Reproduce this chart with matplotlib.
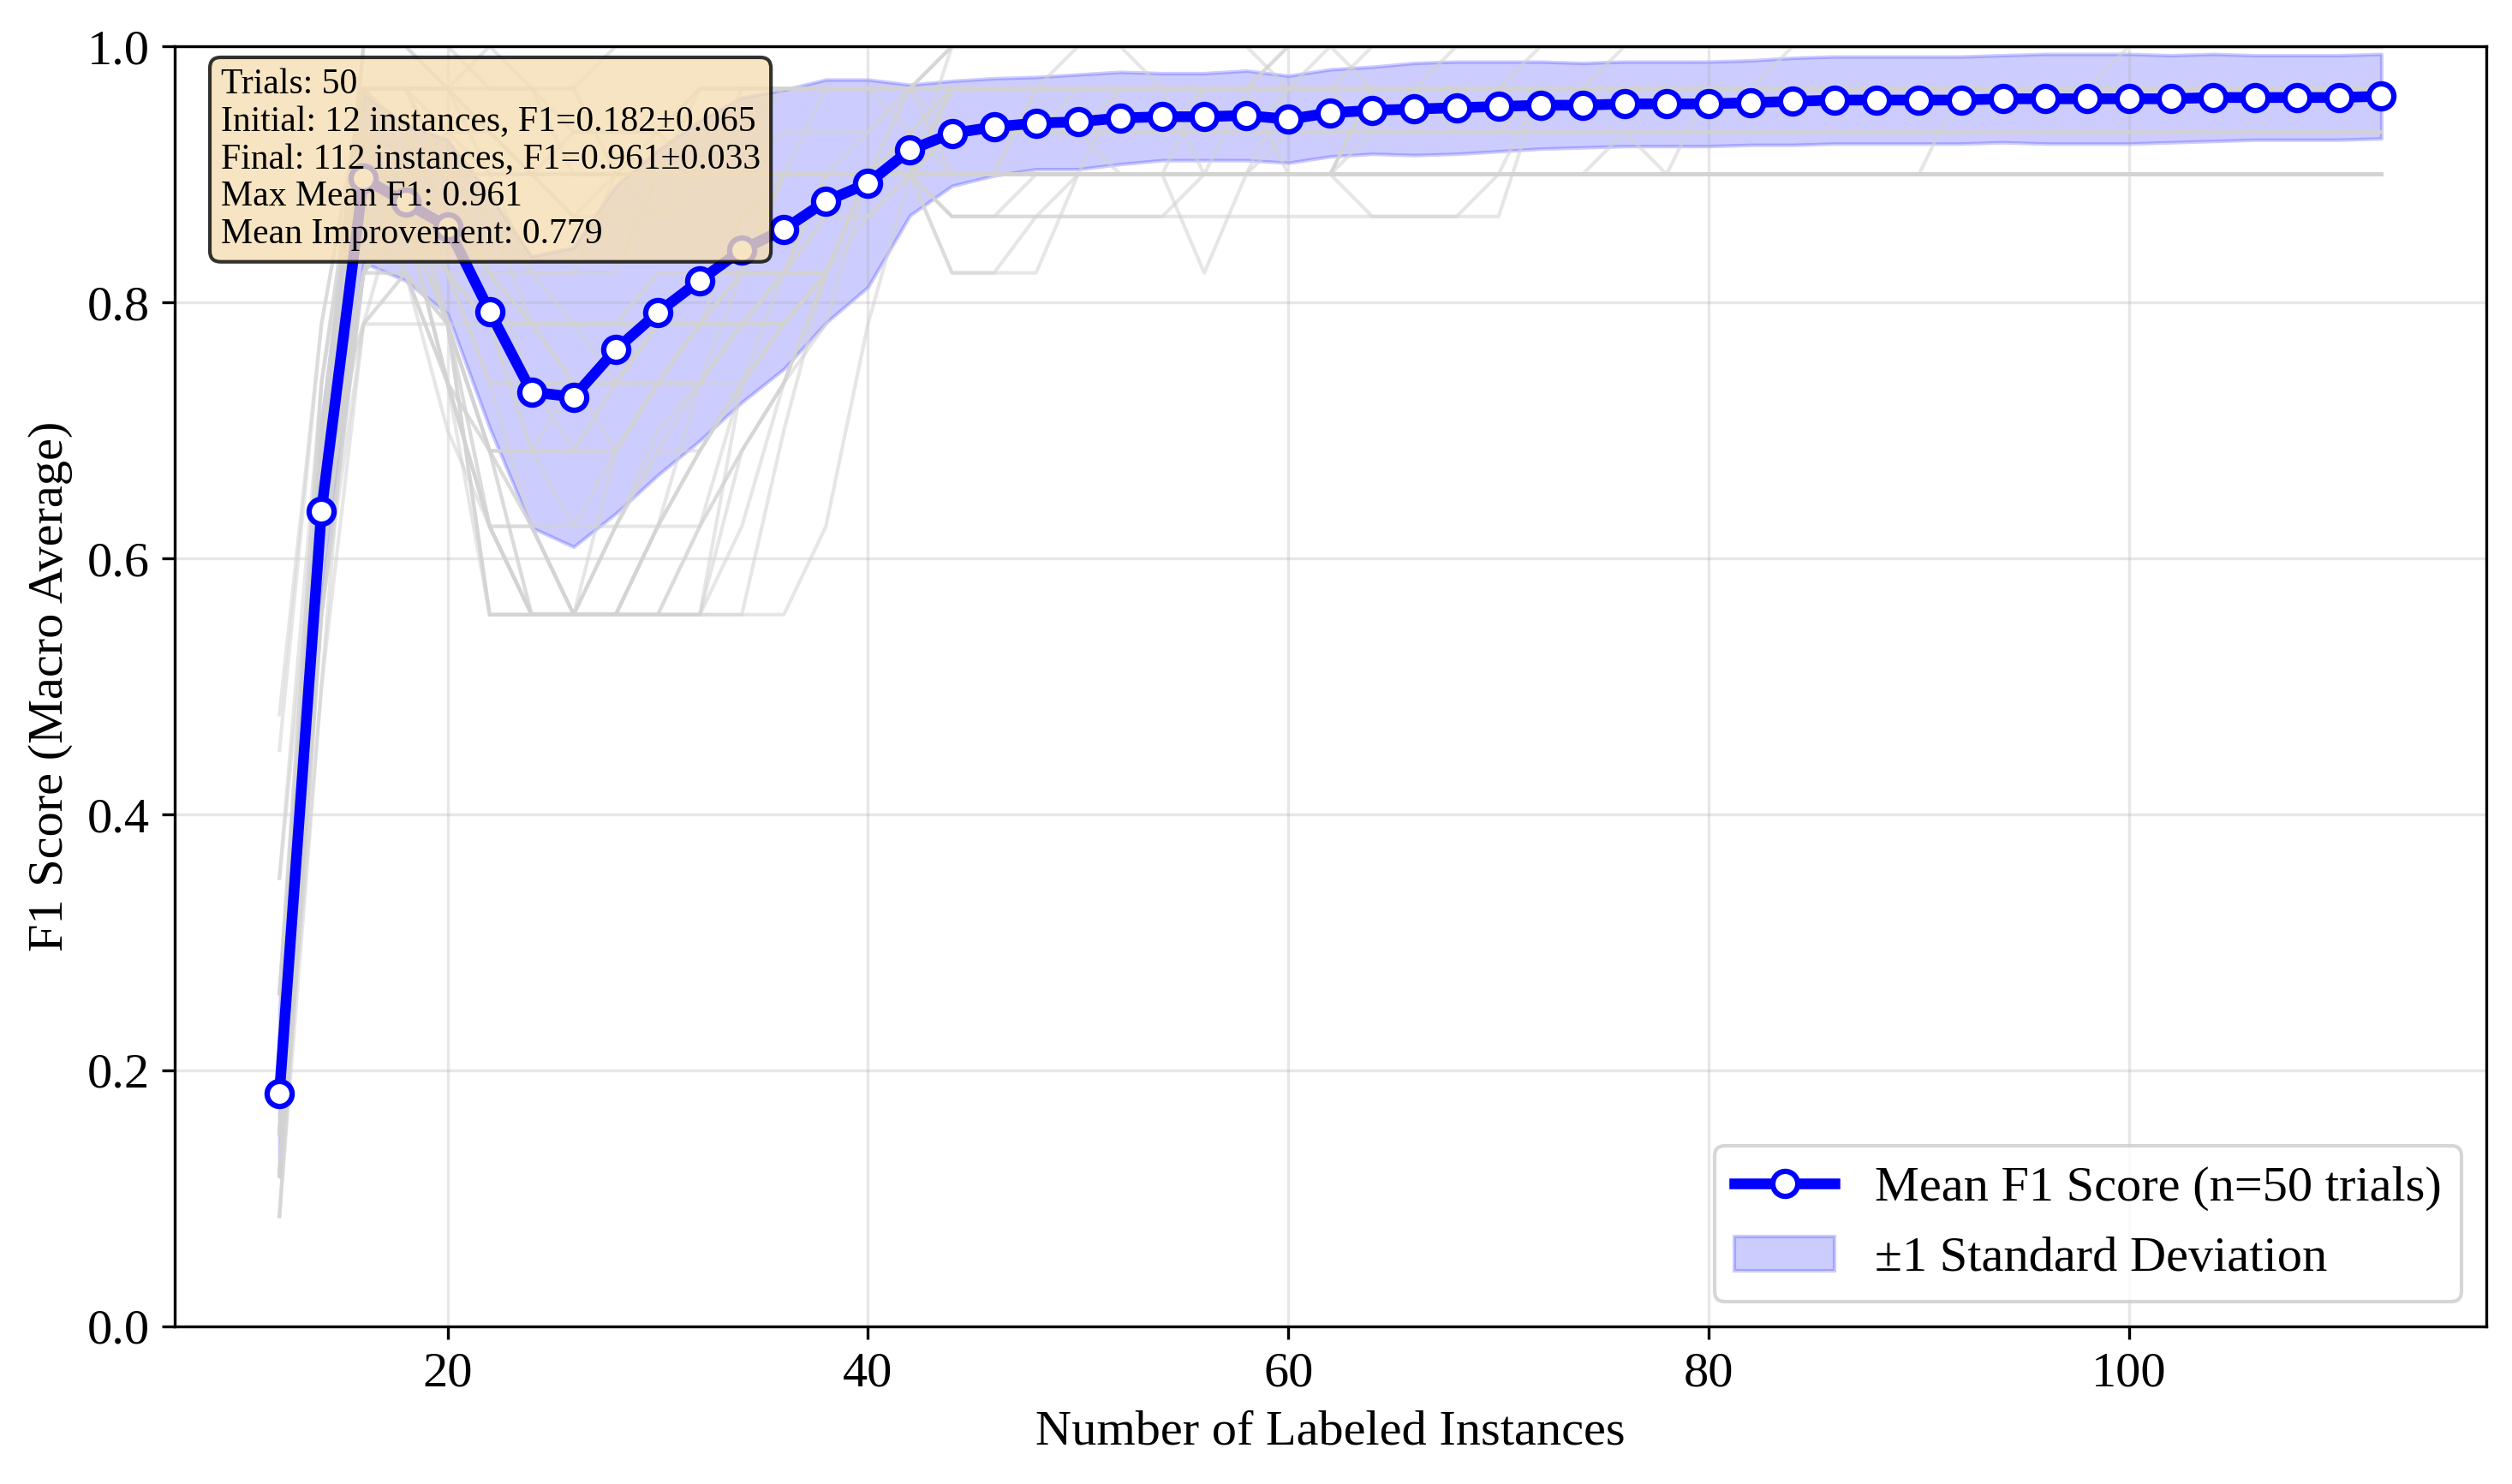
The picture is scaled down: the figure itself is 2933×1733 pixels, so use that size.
import matplotlib
matplotlib.use("Agg")
import matplotlib.pyplot as plt
from matplotlib.lines import Line2D
from matplotlib.patches import Patch

plt.rcParams['font.family'] = ['Liberation Serif', 'DejaVu Serif']
plt.rcParams['font.size'] = 14

# ---------------- data ----------------
n_labeled = list(range(12, 113, 2))

mean_f1 = [0.182, 0.637, 0.897, 0.878, 0.859, 0.793, 0.730, 0.726, 0.763, 0.792,
           0.817, 0.841, 0.857, 0.879, 0.893, 0.919, 0.932, 0.937, 0.940, 0.941,
           0.944, 0.945, 0.945, 0.946, 0.943, 0.948, 0.950, 0.951, 0.952, 0.953,
           0.954, 0.954, 0.955, 0.955, 0.955, 0.956, 0.957, 0.958, 0.958, 0.958,
           0.958, 0.959, 0.959, 0.959, 0.959, 0.959, 0.960, 0.960, 0.960, 0.960,
           0.961]

std_f1 = [0.065, 0.070, 0.066, 0.061, 0.068, 0.091, 0.106, 0.117, 0.128, 0.127,
          0.125, 0.119, 0.109, 0.095, 0.081, 0.051, 0.041, 0.038, 0.036, 0.037,
          0.036, 0.034, 0.034, 0.035, 0.034, 0.034, 0.034, 0.036, 0.036, 0.035,
          0.034, 0.033, 0.033, 0.033, 0.033, 0.033, 0.034, 0.034, 0.034, 0.034,
          0.034, 0.034, 0.035, 0.035, 0.035, 0.034, 0.034, 0.033, 0.033, 0.033,
          0.033]

# F1 levels taken by individual trials (code letter -> value)
trial_levels = {
    '0': 0.086, '1': 0.118, '2': 0.150, '3': 0.182, '4': 0.220, '5': 0.260,
    '6': 0.350, '7': 0.450, '8': 0.478,
    'a': 0.500, 'b': 0.556, 'c': 0.600, 'd': 0.625, 'e': 0.650, 'f': 0.684,
    'g': 0.700, 'h': 0.737, 'i': 0.783, 'j': 0.800, 'k': 0.823, 'l': 0.867,
    'm': 0.900, 'n': 0.933, 'o': 0.967, 'p': 1.000,
}

# one string per trial, one letter per labeled-set size (12, 14, ..., 112)
trials = [
    "3e" + "ooopoomnoooooo" + "p" * 35,
    "2f" + "pppoommmmooooo" + "o" * 3 + "p" * 32,
    "1c" + "kmmmmnnnmmmmmm" + "m" * 35,
    "4g" + "oonmmmmmmmmmmm" + "o" * 35,
    "2d" + "pponmlmmoooooo" + "o" * 12 + "p" * 23,
    "3e" + "nnmmkkmmnnoooo" + "m" * 4 + "o" * 31,
    "5h" + "oooooopppppppp" + "p" * 35,
    "2c" + "mmnnmmmlmmmmmm" + "m" * 35,
    "3f" + "ppooonnnoooooo" + "p" * 8 + "o" + "p" * 26,
    "1d" + "ooonmmmmmmnnno" + "o" * 35,
    "2b" + "kmllkkkmmmmmmm" + "l" * 3 + "m" * 32,
    "4e" + "ooommlllmmmoon" + "o" * 35,
    "3d" + "kmliihhikkmmmo" + "n" * 8 + "o" * 27,
    "2c" + "nmkihhhiikkmmm" + "m" * 2 + "o" * 6 + "p" * 27,
    "8i" + "oomkiiikkkmmno" + "o" * 35,
    "1b" + "mlkhhhhhiikkmm" + "m" * 10 + "lll" + "m" * 22,
    "3e" + "nnliiiiikkkllm" + "n" * 3 + "o" * 32,
    "2c" + "kmkhhfhhiiikmm" + "m" * 10 + "o" * 25,
    "4g" + "omliffhiikmmmm" + "o" * 20 + "p" * 15,
    "0a" + "mmkiihhiilmmmo" + "p" * 5 + "o" * 30,
    "2d" + "lllkiiikkkmmmm" + "n" * 35,
    "3f" + "nmmkhhfhhkkkmn" + "o" * 35,
    "5e" + "ikiihhhhiiiklm" + "m" * 14 + "o" * 21,
    "2c" + "oomliiiiiiikmm" + "o" * 28 + "p" * 7,
    "1b" + "kmkkihhiikkkmm" + "n" * 4 + "m" * 31,
    "3f" + "nmliiiiiiikkmm" + "m" * 2 + "o" * 33,
    "4g" + "llkihhhhhhikmm" + "m" * 6 + "k" + "m" * 3 + "o" * 25,
    "2d" + "mmlkkiiikkkllm" + "o" * 16 + "p" * 19,
    "6h" + "onmkiihiikmmmn" + "o" * 35,
    "3e" + "mlkiiiiikkllmm" + "o" * 10 + "n" + "o" * 24,
    "2c" + "klibbbbdfhikmm" + "k" * 3 + "m" * 5 + "o" * 27,
    "1a" + "iiibbbbbbbbdim" + "l" * 14 + "o" * 21,
    "3e" + "nlidbbdfhiikmm" + "n" * 4 + "o" * 10 + "p" * 21,
    "0b" + "kkifbbbbdfhimm" + "l" * 2 + "m" * 8 + "o" * 25,
    "4f" + "llhdbbbbbhkmmm" + "m" * 35,
    "2d" + "kmkhdbbdhiikmm" + "n" * 12 + "o" * 23,
    "5g" + "nmiffddffhikmn" + "m" * 6 + "o" * 4 + "p" * 25,
    "3e" + "mlhbbbbbbbgkmm" + "m" * 18 + "o" * 17,
    "7i" + "oniffffhhiikmm" + "o" * 8 + "p" * 27,
    "1c" + "kkgdbbdghiklmm" + "n" * 6 + "o" * 29,
    "2d" + "klhfdbbbbdhkmm" + "m" * 10 + "n" * 25,
    "3f" + "nkhdbbfhiikmmm" + "m" * 8 + "n" * 6 + "o" * 21,
    "4g" + "mlifddfhiikkmm" + "o" * 8 + "m" * 27,
    "0b" + "ikhfbbbbbfhkmm" + "m" * 24 + "o" * 11,
    "5h" + "nmiddbbdfhikmm" + "o" * 35,
    "2c" + "kliffhhiikkmmm" + "o" * 12 + "n" * 23,
    "1d" + "lkhdbbddfhikmm" + "k" * 2 + "l" * 4 + "m" * 29,
    "6f" + "imkifffhhiikmm" + "p" * 10 + "o" * 25,
    "3e" + "klhddbbbdfhkmm" + "m" * 16 + "n" + "m" * 18,
    "5c" + "nkibbbbddhikmm" + "o" * 6 + "m" + "o" * 28,
]

info_lines = [
    "Trials: 50",
    "Initial: 12 instances, F1=0.182\u00b10.065",
    "Final: 112 instances, F1=0.961\u00b10.033",
    "Max Mean F1: 0.961",
    "Mean Improvement: 0.779",
]

# ---------------- plot ----------------
fig = plt.figure(figsize=(2933 / 300, 1733 / 300), dpi=300)
ax = fig.add_axes([0.0694, 0.1062, 0.9898 - 0.0694, 0.9688 - 0.1062])

lower = [m - s for m, s in zip(mean_f1, std_f1)]
upper = [m + s for m, s in zip(mean_f1, std_f1)]
ax.fill_between(n_labeled, lower, upper, color='blue', alpha=0.2, zorder=1)

for t in trials:
    vals = [trial_levels[c] for c in t]
    ax.plot(n_labeled, vals, color='lightgray', alpha=0.55, linewidth=1, zorder=2)

ax.plot(n_labeled, mean_f1, '-o', color='blue', linewidth=3, markersize=7,
        markerfacecolor='white', markeredgecolor='blue', markeredgewidth=1.5,
        zorder=3)

ax.set_ylim(0, 1)
ax.set_xlabel("Number of Labeled Instances")
ax.set_ylabel("F1 Score (Macro Average)")
ax.grid(True, alpha=0.3)

ax.text(0.02, 0.983, "\n".join(info_lines), transform=ax.transAxes,
        fontsize=10, va='top', ha='left', linespacing=1.18,
        bbox=dict(boxstyle='round', facecolor='wheat', alpha=0.8), zorder=5)

handles = [
    Line2D([0], [0], color='blue', linewidth=3, marker='o', markersize=7,
           markerfacecolor='white', markeredgecolor='blue', markeredgewidth=1.5),
    Patch(facecolor='blue', edgecolor='blue', alpha=0.2),
]
ax.legend(handles, ["Mean F1 Score (n=50 trials)", "\u00b11 Standard Deviation"],
          loc='lower right', fontsize=14)

fig.savefig("out.png", dpi=300)
